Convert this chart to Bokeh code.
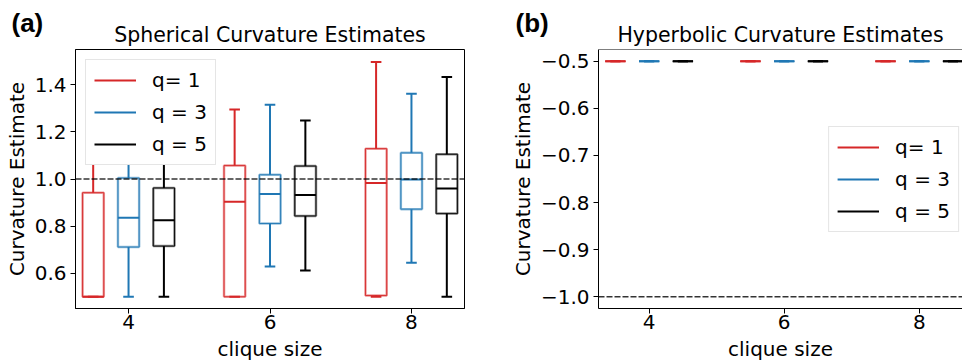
from bokeh.plotting import figure
from bokeh.layouts import row
from bokeh.models import (Range1d, FixedTicker, CustomJSTickFormatter, Span, Title,
                          Legend, LegendItem, ColumnDataSource)
from bokeh.embed import file_html
from bokeh.resources import INLINE

FONT = "DejaVu Sans"

clique_sizes = [4, 6, 8]
series_labels = ["q= 1", "q = 3", "q = 5"]
series_colors = ["#d62728", "#1f77b4", "#000000"]
series_offsets = [-0.5, 0.0, 0.5]
x_ticks = [4, 6, 8]

# ---- Spherical curvature estimates (panel a) ----
sph_q1_low = [0.50, 0.50, 0.50]
sph_q1_p25 = [0.50, 0.50, 0.505]
sph_q1_med = [0.50, 0.903, 0.983]
sph_q1_p75 = [0.942, 1.057, 1.129]
sph_q1_high = [1.35, 1.295, 1.497]

sph_q3_low = [0.50, 0.628, 0.644]
sph_q3_p25 = [0.711, 0.811, 0.872]
sph_q3_med = [0.835, 0.936, 0.998]
sph_q3_p75 = [1.004, 1.018, 1.111]
sph_q3_high = [1.30, 1.315, 1.362]

sph_q5_low = [0.50, 0.611, 0.50]
sph_q5_p25 = [0.715, 0.843, 0.853]
sph_q5_med = [0.825, 0.932, 0.960]
sph_q5_p75 = [0.962, 1.055, 1.105]
sph_q5_high = [1.20, 1.248, 1.433]

sph_true = 1.0
sph_y_ticks = [0.6, 0.8, 1.0, 1.2, 1.4]

# ---- Hyperbolic curvature estimates (panel b) ----
hyp_q1_low = [-0.5, -0.5, -0.5]
hyp_q1_p25 = [-0.5, -0.5, -0.5]
hyp_q1_med = [-0.5, -0.5, -0.5]
hyp_q1_p75 = [-0.5, -0.5, -0.5]
hyp_q1_high = [-0.5, -0.5, -0.5]

hyp_q3_low = [-0.5, -0.5, -0.5]
hyp_q3_p25 = [-0.5, -0.5, -0.5]
hyp_q3_med = [-0.5, -0.5, -0.5]
hyp_q3_p75 = [-0.5, -0.5, -0.5]
hyp_q3_high = [-0.5, -0.5, -0.5]

hyp_q5_low = [-0.5, -0.5, -0.5]
hyp_q5_p25 = [-0.5, -0.5, -0.5]
hyp_q5_med = [-0.5, -0.5, -0.5]
hyp_q5_p75 = [-0.5, -0.5, -0.5]
hyp_q5_high = [-0.5, -0.5, -0.5]

hyp_true = -1.0
hyp_y_ticks = [-1.0, -0.9, -0.8, -0.7, -0.6, -0.5]

BOX_W = 0.3
CAP_W = 0.15

sph_stats = [
    (sph_q1_low, sph_q1_p25, sph_q1_med, sph_q1_p75, sph_q1_high),
    (sph_q3_low, sph_q3_p25, sph_q3_med, sph_q3_p75, sph_q3_high),
    (sph_q5_low, sph_q5_p25, sph_q5_med, sph_q5_p75, sph_q5_high),
]
hyp_stats = [
    (hyp_q1_low, hyp_q1_p25, hyp_q1_med, hyp_q1_p75, hyp_q1_high),
    (hyp_q3_low, hyp_q3_p25, hyp_q3_med, hyp_q3_p75, hyp_q3_high),
    (hyp_q5_low, hyp_q5_p25, hyp_q5_med, hyp_q5_p75, hyp_q5_high),
]


def draw_boxes(p, stats, color, offset):
    lo, p25, med, p75, hi = stats
    pos = [c + offset for c in clique_sizes]
    src = ColumnDataSource(dict(
        pos=pos, lo=lo, p25=p25, med=med, p75=p75, hi=hi,
        bl=[x - BOX_W / 2 for x in pos], br=[x + BOX_W / 2 for x in pos],
        cl=[x - CAP_W / 2 for x in pos], cr=[x + CAP_W / 2 for x in pos],
    ))
    p.quad(left="bl", right="br", bottom="p25", top="p75", source=src,
           fill_color=None, line_color=color, line_alpha=0.45, line_width=2.5)
    p.quad(left="bl", right="br", bottom="p25", top="p75", source=src,
           fill_color=None, line_color=color, line_alpha=0.9, line_width=1)
    wr = p.segment(x0="pos", y0="p75", x1="pos", y1="hi", source=src,
                   line_color=color, line_width=2)
    p.segment(x0="pos", y0="lo", x1="pos", y1="p25", source=src,
              line_color=color, line_width=2)
    p.segment(x0="cl", y0="hi", x1="cr", y1="hi", source=src,
              line_color=color, line_width=2)
    p.segment(x0="cl", y0="lo", x1="cr", y1="lo", source=src,
              line_color=color, line_width=2)
    p.segment(x0="bl", y0="med", x1="br", y1="med", source=src,
              line_color=color, line_width=2)
    return wr


def style_axes(p, y_ticks, fmt_code):
    for ax in (p.xaxis[0], p.yaxis[0]):
        ax.axis_line_color = "black"
        ax.axis_line_width = 1
        ax.major_tick_line_color = "black"
        ax.major_tick_out = 5
        ax.major_tick_in = 0
        ax.minor_tick_line_color = None
        ax.major_label_text_font = FONT
        ax.major_label_text_font_size = "20px"
        ax.major_label_text_color = "black"
        ax.axis_label_text_font = FONT
        ax.axis_label_text_font_size = "20px"
        ax.axis_label_text_font_style = "normal"
        ax.axis_label_text_color = "black"
    p.xaxis[0].ticker = FixedTicker(ticks=x_ticks)
    p.yaxis[0].ticker = FixedTicker(ticks=y_ticks)
    p.yaxis[0].formatter = CustomJSTickFormatter(code=fmt_code)
    p.xaxis[0].major_label_standoff = 1
    p.xaxis[0].axis_label_standoff = 5
    p.yaxis[0].major_label_standoff = 4
    p.yaxis[0].axis_label_standoff = 3
    p.xaxis[0].axis_label = "clique size"
    p.yaxis[0].axis_label = "Curvature Estimate"
    p.xgrid.grid_line_color = None
    p.ygrid.grid_line_color = None


def add_titles(p, main_text, tag_text, tag_offset, main_offset):
    p.add_layout(Title(text=main_text, align="center", offset=main_offset, standoff=6,
                       text_font=FONT, text_font_size="20.5px", text_font_style="normal",
                       text_color="black"), "above")
    p.add_layout(Title(text=tag_text, align="left", offset=tag_offset, standoff=-40,
                       text_font="Liberation Sans", text_font_size="26px",
                       text_font_style="bold", text_color="black"), "above")


def make_legend(p, renderers, location, margin):
    items = [LegendItem(label=lab, renderers=[r]) for lab, r in zip(series_labels, renderers)]
    lg = Legend(items=items, location=location, margin=margin, padding=8, spacing=8,
                glyph_width=42, glyph_height=22, label_height=22, label_standoff=16,
                label_text_font=FONT, label_text_font_size="20px", label_text_color="black",
                border_line_color="#cccccc", border_line_width=1,
                background_fill_color="white", background_fill_alpha=1.0)
    p.add_layout(lg, "center")


FMT = "return tick.toFixed(1).replace('-', '\\u2212');"

# ---------------- panel (a) ----------------
pa = figure(width=480, height=364, output_backend="svg", toolbar_location=None,
            x_range=Range1d(3.25, 8.75), y_range=Range1d(0.45, 1.55),
            min_border_left=75, min_border_right=16, min_border_top=49, min_border_bottom=56,
            title=None)
pa.background_fill_color = "white"
pa.border_fill_color = "white"
pa.outline_line_color = "black"
pa.outline_line_width = 1
pa.outline_line_alpha = 1
style_axes(pa, sph_y_ticks, FMT)
add_titles(pa, "Spherical Curvature Estimates", "(a)", -64, 0)
pa.add_layout(Span(location=sph_true, dimension="width", line_color="black",
                   line_alpha=0.8, line_width=1.5, line_dash="6 2"))
ren_a = [draw_boxes(pa, st, c, o) for st, c, o in zip(sph_stats, series_colors, series_offsets)]
make_legend(pa, ren_a, "top_left", 10)

# ---------------- panel (b) ----------------
hyp_y_lo, hyp_y_hi = -1.025, -0.475
pb = figure(width=482, height=364, output_backend="svg", toolbar_location=None,
            x_range=Range1d(3.25, 8.64), y_range=Range1d(hyp_y_lo, hyp_y_hi),
            min_border_left=118, min_border_right=0, min_border_top=49, min_border_bottom=56,
            title=None)
pb.background_fill_color = "white"
pb.border_fill_color = "white"
pb.outline_line_color = None
style_axes(pb, hyp_y_ticks, FMT)
add_titles(pb, "Hyperbolic Curvature Estimates", "(b)", -83, 4)
pb.add_layout(Span(location=hyp_y_hi, dimension="width", line_color="black", line_width=1))
pb.add_layout(Span(location=hyp_true, dimension="width", line_color="black",
                   line_alpha=0.8, line_width=1.5, line_dash="6 2"))
ren_b = [draw_boxes(pb, st, c, o) for st, c, o in zip(hyp_stats, series_colors, series_offsets)]
make_legend(pb, ren_b, "center_right", 3)

layout = row(pa, pb)
open("out.html", "w").write(file_html(layout, INLINE))
